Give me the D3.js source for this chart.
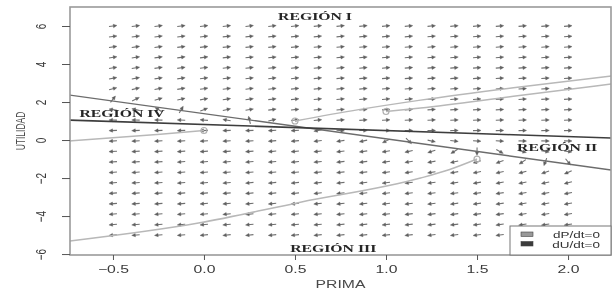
<!DOCTYPE html>
<html>
<head>
<meta charset="utf-8">
<script src="https://cdn.jsdelivr.net/npm/d3@7"></script>
<style>
  body { margin: 0; background: #fff; }
  svg { display: block; }
</style>
</head>
<body>
<div class="container"></div>
<script>
// grid of the flow field (PRIMA x UTILIDAD)
var gridP = [-0.5, -0.375, -0.25, -0.125, 0, 0.125, 0.25, 0.375, 0.5, 0.625, 0.75,
             0.875, 1, 1.125, 1.25, 1.375, 1.5, 1.625, 1.75, 1.875, 2];
var gridU = [-5, -4.45, -3.9, -3.35, -2.8, -2.25, -1.7, -1.15, -0.6, -0.05, 0.5,
             1.05, 1.6, 2.15, 2.7, 3.25, 3.8, 4.35, 4.9, 5.45, 6];

// nullclines
var dPdt0 = [[-0.74, 2.37], [2.24, -1.58]];
var dUdt0 = [[-0.74, 1.05], [2.24, 0.105]];

// trajectories (first point = start circle)
var trajectories = [
  [[0, 0.5], [-0.24, 0.3], [-0.74, -0.05]],
  [[0.5, 1.0], [0.85, 1.6], [1.19, 2.1], [1.7, 2.75], [2.24, 3.37]],
  [[1.0, 1.5], [1.19, 1.68], [1.7, 2.3], [2.24, 2.95]],
  [[1.5, -1.0], [1.35, -1.55], [1.19, -2.0], [0.53, -3.27], [-0.03, -4.37], [-0.74, -5.32]]
];

var xTicks = [-0.5, 0, 0.5, 1, 1.5, 2];
var yTicks = [-6, -4, -2, 0, 2, 4, 6];

var regionLabels = ['REGIÓN I', 'REGIÓN II', 'REGIÓN III', 'REGIÓN IV'];
var regionPos = [[0.61, 6.3], [1.94, -0.58], [0.71, -5.9], [-0.45, 1.2]];
var legendLabels = ['dP/dt=0', 'dU/dt=0'];

const WIDTH = 615;
const HEIGHT = 296;
const LEFT = 70, RIGHT = 611, TOP = 7, BOTTOM = 255;
const SX = 1.5; // picture is stretched sideways

var xScale = d3.scaleLinear().domain([-0.736, 2.236]).range([LEFT, RIGHT]);
var yScale = d3.scaleLinear().domain([-6.05, 7]).range([BOTTOM, TOP]);

var svg = d3.select('.container').append('svg')
    .attr('width', WIDTH)
    .attr('height', HEIGHT);

var defs = svg.append('defs');
defs.append('clipPath').attr('id', 'clip')
    .append('rect')
    .attr('x', LEFT).attr('y', TOP)
    .attr('width', RIGHT - LEFT).attr('height', BOTTOM - TOP);
defs.append('filter').attr('id', 'soft')
    .append('feGaussianBlur').attr('stdDeviation', 0.35);

var root = svg.append('g').attr('filter', 'url(#soft)');

var stretched = function (sel, x, y, rot) {
    sel.attr('transform', 'translate(' + x + ',' + y + ') scale(' + SX + ',1)' + (rot ? ' rotate(' + rot + ')' : ''));
    return sel;
};

var lineA = d3.scaleLinear().domain([dPdt0[0][0], dPdt0[1][0]]).range([dPdt0[0][1], dPdt0[1][1]]);
var lineB = d3.scaleLinear().domain([dUdt0[0][0], dUdt0[1][0]]).range([dUdt0[0][1], dUdt0[1][1]]);

// flow field arrows
var cells = [];
gridU.forEach(function (u) {
    gridP.forEach(function (p) { cells.push([p, u]); });
});

var direction = function (d) {
    var p = d[0], u = d[1];
    var cx = xScale(p), cy = yScale(u);
    var vx = xScale(p + (u - lineA(p)) * 0.01) - cx;
    var vy = yScale(u + (u - lineB(p)) * 0.01) - cy;
    var n = Math.sqrt(vx * vx + vy * vy) || 1;
    return {cx: cx, cy: cy, vx: vx / n, vy: vy / n};
};

var shaftPath = function (d) {
    var v = direction(d), L = 8;
    return 'M' + (v.cx - v.vx * L / 2) + ',' + (v.cy - v.vy * L / 2) +
        'L' + (v.cx + v.vx * (L / 2 - 2)) + ',' + (v.cy + v.vy * (L / 2 - 2));
};

var headPath = function (d) {
    var v = direction(d), L = 8, H = 3.6, W = 1.7;
    var tx = v.cx + v.vx * L / 2, ty = v.cy + v.vy * L / 2;
    var bx = tx - v.vx * H, by = ty - v.vy * H;
    return 'M' + tx + ',' + ty +
        'L' + (bx - v.vy * W) + ',' + (by + v.vx * W) +
        'L' + (bx + v.vy * W) + ',' + (by - v.vx * W) + 'Z';
};

var field = root.append('g');
field.selectAll('.shaft').data(cells)
    .enter().append('path')
    .attr('class', 'shaft')
    .attr('d', shaftPath)
    .attr('fill', 'none')
    .attr('stroke', '#707070')
    .attr('stroke-width', 1.1);
field.selectAll('.head').data(cells)
    .enter().append('path')
    .attr('class', 'head')
    .attr('d', headPath)
    .attr('fill', '#606060')
    .attr('stroke', '#606060')
    .attr('stroke-width', 0.4);

var line = d3.line()
    .x(function (d) { return xScale(d[0]); })
    .y(function (d) { return yScale(d[1]); });

var clipped = root.append('g').attr('clip-path', 'url(#clip)');

clipped.append('path').attr('d', line(dPdt0))
    .attr('fill', 'none').attr('stroke', '#6c6c6c').attr('stroke-width', 1.4);
clipped.append('path').attr('d', line(dUdt0))
    .attr('fill', 'none').attr('stroke', '#3c3c3c').attr('stroke-width', 1.6);

var curved = d3.line()
    .x(function (d) { return xScale(d[0]); })
    .y(function (d) { return yScale(d[1]); })
    .curve(d3.curveMonotoneX);

clipped.selectAll('.traj').data(trajectories)
    .enter().append('path')
    .attr('class', 'traj')
    .attr('d', curved)
    .attr('fill', 'none')
    .attr('stroke', '#b8b8b8')
    .attr('stroke-width', 1.5);

clipped.selectAll('.start').data(trajectories)
    .enter().append('circle')
    .attr('class', 'start')
    .attr('cx', function (d) { return xScale(d[0][0]); })
    .attr('cy', function (d) { return yScale(d[0][1]); })
    .attr('r', 3)
    .attr('fill', 'none')
    .attr('stroke', '#b0b0b0')
    .attr('stroke-width', 1.2);

// frame
root.append('rect')
    .attr('x', LEFT).attr('y', TOP)
    .attr('width', RIGHT - LEFT).attr('height', BOTTOM - TOP)
    .attr('fill', 'none').attr('stroke', '#9a9a9a').attr('stroke-width', 1.6);

// x axis
var xAxis = root.append('g')
    .attr('transform', 'translate(0,' + BOTTOM + ')')
    .call(d3.axisBottom(xScale).tickValues(xTicks).tickSize(5).tickFormat(d3.format('.1f')));
xAxis.select('.domain').remove();
xAxis.selectAll('line').attr('stroke', '#555');
xAxis.selectAll('text').each(function () {
    stretched(d3.select(this), 0, 18, 0)
        .attr('y', 0).attr('dy', 0)
        .attr('fill', '#3a3a3a')
        .style('font', '10.5px "Liberation Sans", Arial, sans-serif');
});

// y axis
var yAxis = root.append('g')
    .attr('transform', 'translate(' + LEFT + ',0)')
    .call(d3.axisLeft(yScale).tickValues(yTicks).tickSize(8).tickFormat(d3.format('d')));
yAxis.select('.domain').remove();
yAxis.selectAll('line').attr('stroke', '#555');
yAxis.selectAll('text').each(function () {
    stretched(d3.select(this), -29, 0, -90)
        .attr('x', 0).attr('y', 0).attr('dy', '0.35em')
        .attr('text-anchor', 'middle')
        .attr('fill', '#3a3a3a')
        .style('font', '10px "Liberation Sans", Arial, sans-serif');
});

// axis titles
stretched(root.append('text'), (LEFT + RIGHT) / 2, 288, 0)
    .attr('text-anchor', 'middle')
    .attr('fill', '#4a4a4a')
    .style('font', '10.5px "Liberation Sans", Arial, sans-serif')
    .text('PRIMA');
stretched(root.append('text'), 25, (TOP + BOTTOM) / 2, -90)
    .attr('text-anchor', 'middle')
    .attr('fill', '#4a4a4a')
    .style('font', '8.5px "Liberation Sans", Arial, sans-serif')
    .text('UTILIDAD');

// region labels
regionLabels.forEach(function (t, i) {
    stretched(root.append('text'), xScale(regionPos[i][0]), yScale(regionPos[i][1]), 0)
        .attr('text-anchor', 'middle')
        .attr('fill', '#262626')
        .style('font', 'bold 10.5px "Liberation Serif", "Times New Roman", serif')
        .text(t);
});

// legend
var legend = root.append('g');
legend.append('rect')
    .attr('x', 510).attr('y', 226).attr('width', 101).attr('height', 29)
    .attr('fill', '#fff').attr('stroke', '#777').attr('stroke-width', 1);
var legendFill = ['#999', '#3a3a3a'];
legendLabels.forEach(function (t, i) {
    legend.append('rect')
        .attr('x', 521).attr('y', 232 + i * 9.5).attr('width', 12).attr('height', 4.5)
        .attr('fill', legendFill[i]).attr('stroke', '#444').attr('stroke-width', 0.6);
    stretched(legend.append('text'), 600, 238 + i * 9.5, 0)
        .attr('text-anchor', 'end')
        .attr('fill', '#333')
        .style('font', '9px "Liberation Sans", Arial, sans-serif')
        .text(t);
});
</script>
</body>
</html>
